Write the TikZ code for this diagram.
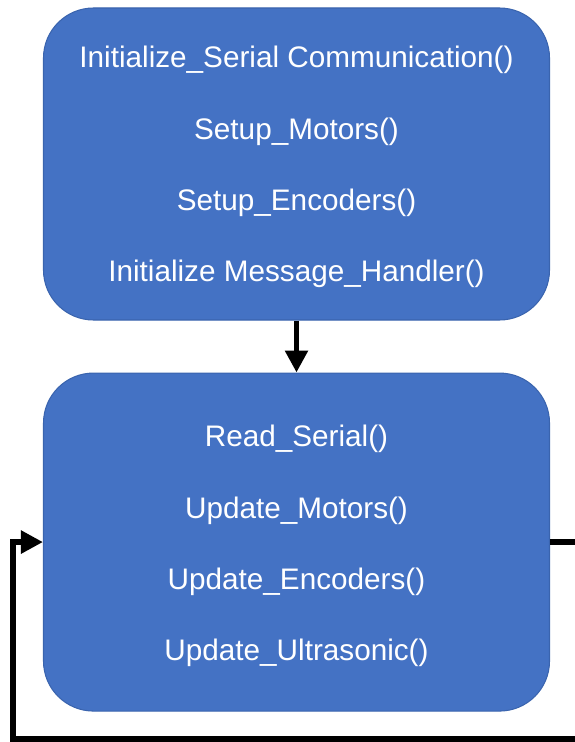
\documentclass[tikz,border=0pt]{standalone}
\usepackage{fontspec}
\setmainfont{Liberation Sans}
\usetikzlibrary{arrows.meta,positioning}
\definecolor{boxblue}{HTML}{4472C4}
\definecolor{boxedge}{HTML}{3A64AE}

\begin{document}
\begin{tikzpicture}[
  node distance=10.4mm,
  box/.style={draw=boxedge, line width=0.6pt, fill=boxblue, rounded corners=10mm,
              align=center, text=white, font=\fontsize{16.9}{40.6}\selectfont,
              minimum width=10.12cm, minimum height=#1, inner sep=0pt},
  box/.default=6.24cm,
  arr/.style={-{Triangle[length=4.4mm,width=4.4mm]}, line width=3.2pt}]
\useasboundingbox (0,0) rectangle (11.5,-14.84);
\node[box] (init) at (5.93,-3.28) {\rule{0pt}{16pt}Initialize\_Serial Communication()\\Setup\_Motors()\\Setup\_Encoders()\\Initialize Message\_Handler()};
\node[box=6.76cm, below=of init] (loop) {\rule{0pt}{17pt}Read\_Serial()\\Update\_Motors()\\Update\_Encoders()\\Update\_Ultrasonic()};
\draw[arr] (init) -- (loop);
\draw[arr, line join=miter] (loop.east) -- ++(0.55,0) -- ++(0,-3.94) -| ([xshift=-6mm]loop.west) -- (loop.west);
\end{tikzpicture}
\end{document}
